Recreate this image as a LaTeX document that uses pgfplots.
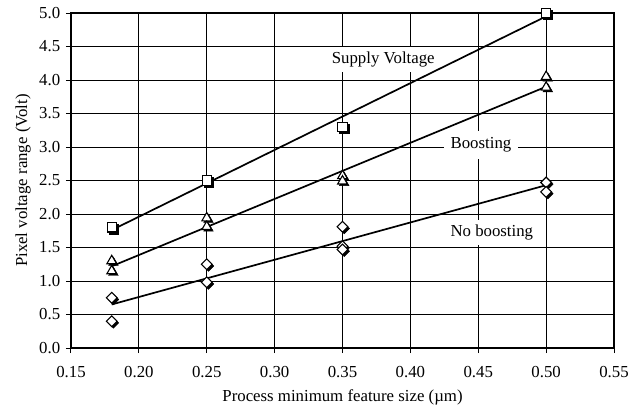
\documentclass[border=0pt]{standalone}
\usepackage{fontspec}
\setmainfont{Liberation Serif}
\usepackage{pgfplots}
\pgfplotsset{compat=1.18}
\begin{document}
\fontsize{16.8}{19}\selectfont
\begin{tikzpicture}
\begin{axis}[
  scale only axis, width=543pt, height=335pt,
  xmin=0.15, xmax=0.55, ymin=0, ymax=5,
  clip=false,
  xtick={0.15,0.20,0.25,0.30,0.35,0.40,0.45,0.50,0.55},
  ytick={0,0.5,1,1.5,2,2.5,3,3.5,4,4.5,5},
  /pgf/number format/assume math mode=true,
  xticklabel style={yshift=-8pt, /pgf/number format/.cd, fixed, fixed zerofill, precision=2},
  yticklabel style={/pgf/number format/.cd, fixed, fixed zerofill, precision=1},
  tick align=outside, major tick length=5pt,
  xtick pos=left, ytick pos=left,
  tick style={black, line width=1pt},
  grid=major, major grid style={black, line width=0.9pt},
  axis line style={black, line width=1.3pt},
  xlabel={Process minimum feature size (µm)},
  ylabel={Pixel voltage range (Volt)},
  xlabel style={at={(axis description cs:0.5,-0.161)}, anchor=base},
  ylabel style={at={(axis description cs:-0.081,0.5)}, anchor=base},
]
% labels (white boxes over the grid)
\node[fill=white, inner xsep=5pt, inner ysep=5pt] at (axis cs:0.380,4.31) {Supply Voltage};
\node[fill=white, inner xsep=7pt, inner ysep=7pt] at (axis cs:0.452,3.03) {Boosting};
\node[fill=white, inner xsep=5pt, inner ysep=5pt] at (axis cs:0.460,1.72) {No boosting};

% frame thick sides
\draw[line width=2.2pt, black] (rel axis cs:0,1) -- (rel axis cs:0,0) -- (rel axis cs:1,0);
\draw[line width=2.2pt, black] (rel axis cs:0,1) -- (rel axis cs:1,1);

% fit lines
\addplot[no marks, black, line width=1.7pt] coordinates {(0.18,1.76) (0.5,4.95)};
\addplot[no marks, black, line width=1.7pt] coordinates {(0.18,1.22) (0.5,3.90)};
\addplot[no marks, black, line width=1.7pt] coordinates {(0.18,0.65) (0.5,2.43)};

% Supply voltage (squares)
\addplot[only marks, mark=square*, mark size=4.6pt,
  mark options={xshift=1.7pt, yshift=-1.7pt, fill=black, draw=black}]
  coordinates {(0.18,1.80) (0.25,2.50) (0.35,3.30) (0.50,5.00)};
\addplot[only marks, mark=square*, mark size=4.6pt,
  mark options={fill=white, draw=black, line width=1.1pt}]
  coordinates {(0.18,1.80) (0.25,2.50) (0.35,3.30) (0.50,5.00)};

% Boosting (triangles)
\addplot[only marks, mark=triangle*, mark size=5.6pt,
  mark options={xshift=1.7pt, yshift=-1.7pt, fill=black, draw=black}]
  coordinates {(0.18,1.30) (0.18,1.15) (0.25,1.94) (0.25,1.81)
               (0.35,2.57) (0.35,2.49) (0.50,4.05) (0.50,3.89)};
\addplot[only marks, mark=triangle*, mark size=5.6pt,
  mark options={fill=white, draw=black, line width=1.1pt}]
  coordinates {(0.18,1.30) (0.18,1.15) (0.25,1.94) (0.25,1.81)
               (0.35,2.57) (0.35,2.49) (0.50,4.05) (0.50,3.89)};

% No boosting (diamonds)
\addplot[only marks, mark=square*, mark size=3.8pt,
  mark options={xshift=1.7pt, yshift=-1.7pt, rotate=45, fill=black, draw=black}]
  coordinates {(0.18,0.75) (0.18,0.40) (0.25,1.25) (0.25,0.98)
               (0.35,1.81) (0.35,1.52) (0.35,1.47) (0.50,2.47) (0.50,2.33)};
\addplot[only marks, mark=square*, mark size=3.8pt,
  mark options={rotate=45, fill=white, draw=black, line width=1.1pt}]
  coordinates {(0.18,0.75) (0.18,0.40) (0.25,1.25) (0.25,0.98)
               (0.35,1.81) (0.35,1.52) (0.35,1.47) (0.50,2.47) (0.50,2.33)};
\end{axis}
\pgfresetboundingbox
\path[use as bounding box] (-71pt,-60pt) rectangle (568pt,348pt);
\end{tikzpicture}
\end{document}
